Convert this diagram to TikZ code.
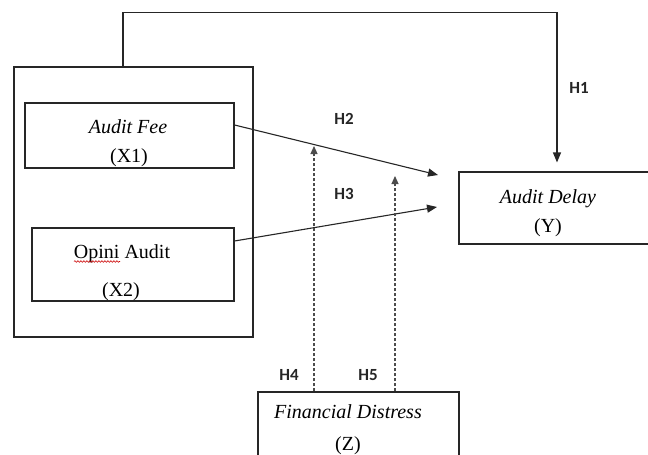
\documentclass[tikz,border=0pt]{standalone}
\usepackage{fontspec}
\setmainfont{Liberation Serif}
\newfontfamily\hfont{Carlito}
\usetikzlibrary{arrows.meta,decorations.pathmorphing}
\tikzset{
  box/.style={draw=black!85, line width=1.1pt, inner sep=0pt, rectangle},
  txt/.style={inner sep=0pt, anchor=base, font=\fontsize{20}{24}\selectfont},
  hlab/.style={inner sep=0pt, font=\hfont\bfseries\fontsize{17}{20}\selectfont, text=black!85},
  arr/.style={draw=black!85, line width=1.1pt, -{Triangle[length=10pt,width=8pt]}},
  darr/.style={draw=black!70, line width=1.1pt, dash pattern=on 3pt off 2pt, -{Triangle[length=8pt,width=7pt]}}
}
\begin{document}
\begin{tikzpicture}[x=1pt,y=-1pt]
\clip (0,0) rectangle (648,455);
\fill[white] (0,0) rectangle (648,455);
% boxes
\node[box, minimum width=239pt, minimum height=270pt] (outer) at (133.5,202) {};
\node[box, minimum width=209pt, minimum height=65pt] (fee) at (129.5,135.5) {};
\node[box, minimum width=202pt, minimum height=73pt] (opini) at (133,264.5) {};
\node[box, minimum width=196pt, minimum height=72pt] (delay) at (557,208) {};
\node[box, minimum width=201pt, minimum height=80pt] (fd) at (358.5,432) {};
% texts
\node[txt] (feeA) at (128,133) {\itshape Audit Fee};
\node[txt] (feeB) at (129,162) {(X1)};
\node[txt] (opA) at (122,258) {Opini Audit};
\node[txt] (opB) at (121,296) {(X2)};
\node[txt] (delA) at (548,203) {\itshape Audit Delay};
\node[txt] (delB) at (548,232) {(Y)};
\node[txt] (fdA) at (348,418) {\itshape Financial Distress};
\node[txt] (fdB) at (348,450) {(Z)};
% spell-check squiggle
\draw[red!80!black, line width=0.6pt, decorate, decoration={snake, amplitude=0.8pt, segment length=3pt}] (74,261.5) -- (120,261.5);
% free ends
\coordinate (h2end) at (438,175);
\coordinate (h3end) at (437,207);
\coordinate (h4end) at (314,146);
\coordinate (h5end) at (395,176);
% connectors
\draw[arr, shorten >=9pt] ([xshift=-10.5pt]outer.north) -- ++(0,-54) -| (delay.north);
\draw[arr] ([yshift=10.5pt]fee.east) -- (h2end);
\draw[arr] ([yshift=23.5pt]opini.east) -- (h3end);
\draw[darr] ([xshift=-44.5pt]fd.north) -- (h4end);
\draw[darr] ([xshift=36.5pt]fd.north) -- (h5end);
% labels
\node[hlab] (l1) at (579,88) {H1};
\node[hlab] (l2) at (344,119) {H2};
\node[hlab] (l3) at (344,194) {H3};
\node[hlab] (l4) at (289,375) {H4};
\node[hlab] (l5) at (368,375) {H5};
\end{tikzpicture}
\end{document}
